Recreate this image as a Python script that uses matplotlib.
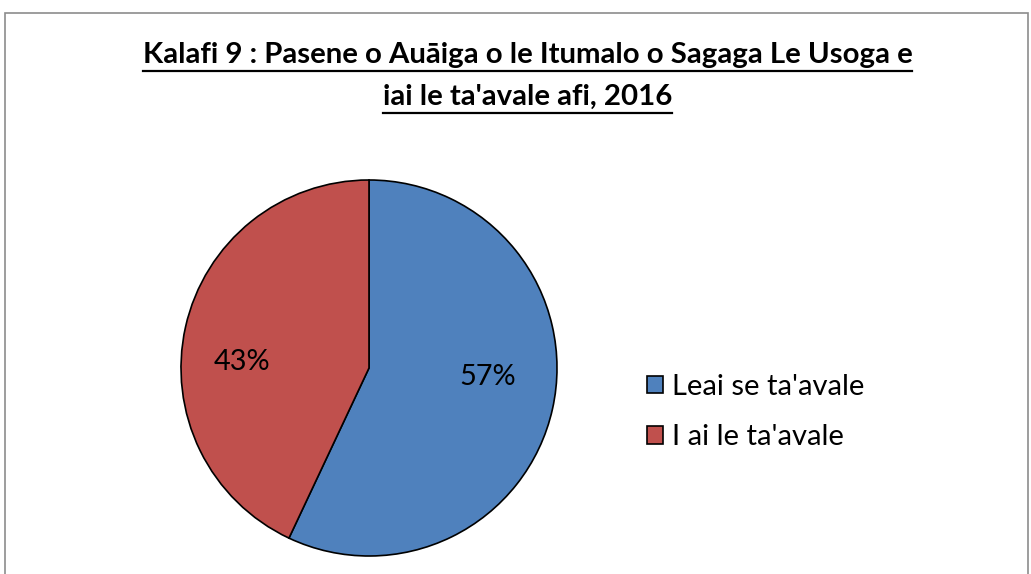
import matplotlib
matplotlib.use("Agg")
import matplotlib.pyplot as plt
from matplotlib.lines import Line2D
from matplotlib.patches import Rectangle

title_lines = ["Kalafi 9 : Pasene o Auāiga o le Itumalo o Sagaga Le Usoga e",
               "iai le ta'avale afi, 2016"]
categories = ["Leai se ta'avale", "I ai le ta'avale"]
values = [57, 43]
colors = ["#4F81BD", "#C0504D"]

W, H = 1031, 574
fig = plt.figure(figsize=(W / 100, H / 100), dpi=100)
plt.rcParams['font.family'] = ['Lato', 'DejaVu Sans']

# outer border
fig.patches.append(Rectangle((5 / W, -0.1), (1023) / W, 1.1 - 13 / H, transform=fig.transFigure,
                             fill=False, edgecolor="#8c8c8c", linewidth=1.2))

cx, cy, r = 369, 368, 188
ax = fig.add_axes([(cx - r) / W, (H - cy - r) / H, 2 * r / W, 2 * r / H])
wedges, texts, autotexts = ax.pie(values, colors=colors, startangle=90, counterclock=False,
                                  autopct='%d%%', pctdistance=0.6,
                                  wedgeprops=dict(edgecolor='black', linewidth=1.2),
                                  textprops=dict(fontsize=20.8, color='black'))
autotexts[0].set_position((0.63, -0.05))
autotexts[1].set_position((-0.675, 0.03))
ax.set_xlim(-1, 1)
ax.set_ylim(-1, 1)
ax.set_aspect('equal')
ax.axis('off')

# title with underline
tys = [55, 97]
tobjs = []
for line, ty in zip(title_lines, tys):
    t = fig.text((140 + 915) / 2 / W, 1 - ty / H, line, ha='center', va='center',
                 fontsize=21.2, fontweight='bold')
    tobjs.append(t)
fig.canvas.draw()
ren = fig.canvas.get_renderer()
for t, ty in zip(tobjs, tys):
    bb = t.get_window_extent(ren)
    yline = (H - ty - 15.5) / H
    fig.add_artist(Line2D([bb.x0 / W, bb.x1 / W], [yline, yline], transform=fig.transFigure,
                          color='black', linewidth=1.6))

leg = fig.legend(wedges, categories, loc='center left', bbox_to_anchor=(647 / W, 1 - 412 / H),
                 frameon=False, fontsize=21, handlelength=0.55, handleheight=0.55,
                 handletextpad=0.3, labelspacing=0.84, borderpad=0, borderaxespad=0)
for h in leg.legend_handles:
    h.set_linewidth(1.2)

fig.savefig("out.png", dpi=100)
